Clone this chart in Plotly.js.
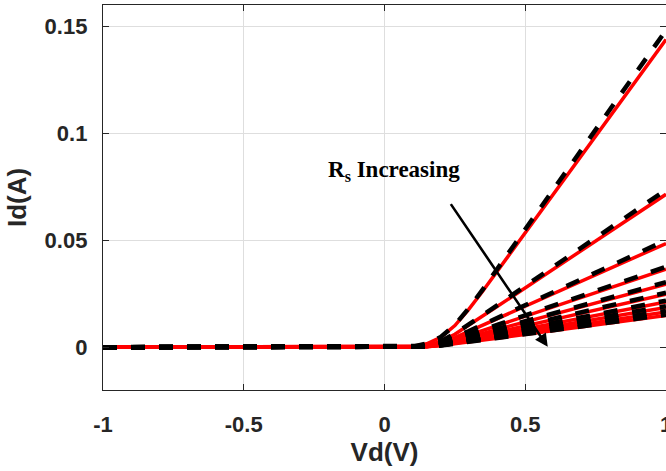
<!DOCTYPE html>
<html>
<head>
<meta charset="utf-8">
<script src="https://cdn.plot.ly/plotly-3.0.1.min.js"></script>
<style>
  html, body { margin: 0; padding: 0; background: #ffffff; }
  #plot { width: 666px; height: 471px; }
</style>
</head>
<body>
<div id="plot"></div>
<script>
// Diode forward voltage sweep (V)
const vd = [-1, 0.1, 0.15, 0.2, 0.25, 0.3, 0.35, 0.4, 1.0];

// Diode current (A), solid red: one series per series resistance Rs (smallest Rs first)
const idSolid = [
  [0, 0.0003, 0.0016, 0.0046, 0.0101, 0.0178, 0.0264, 0.0354, 0.1439],
  [0, 0.0002, 0.0008, 0.0027, 0.0061, 0.0103, 0.0146, 0.0190, 0.0715],
  [0, 0.0001, 0.0006, 0.0020, 0.0045, 0.0074, 0.0103, 0.0132, 0.0485],
  [0, 0.0001, 0.0005, 0.0017, 0.0036, 0.0057, 0.0079, 0.0101, 0.0365],
  [0, 0.0001, 0.0004, 0.0014, 0.0030, 0.0047, 0.0065, 0.0083, 0.0295],
  [0, 0.0001, 0.0003, 0.0012, 0.0026, 0.0040, 0.0055, 0.0070, 0.0248],
  [0, 0.0001, 0.0003, 0.0011, 0.0022, 0.0035, 0.0047, 0.0060, 0.0212],
  [0, 0.0000, 0.0003, 0.0009, 0.0020, 0.0031, 0.0042, 0.0053, 0.0186],
  [0, 0.0000, 0.0002, 0.0009, 0.0018, 0.0027, 0.0037, 0.0047, 0.0165],
  [0, 0.0000, 0.0002, 0.0008, 0.0016, 0.0025, 0.0034, 0.0042, 0.0148]
];

// Diode current (A), dashed black: same Rs values
const idDashed = [
  [0, 0.0003, 0.0017, 0.0048, 0.0104, 0.0183, 0.0272, 0.0365, 0.1482],
  [0, 0.0002, 0.0008, 0.0028, 0.0063, 0.0106, 0.0150, 0.0196, 0.0736],
  [0, 0.0001, 0.0006, 0.0021, 0.0046, 0.0076, 0.0106, 0.0136, 0.0500],
  [0, 0.0001, 0.0005, 0.0017, 0.0037, 0.0059, 0.0081, 0.0104, 0.0376],
  [0, 0.0001, 0.0004, 0.0014, 0.0031, 0.0048, 0.0067, 0.0085, 0.0304],
  [0, 0.0001, 0.0003, 0.0012, 0.0027, 0.0041, 0.0057, 0.0072, 0.0255],
  [0, 0.0001, 0.0003, 0.0011, 0.0023, 0.0036, 0.0048, 0.0062, 0.0218],
  [0, 0.0000, 0.0003, 0.0009, 0.0021, 0.0032, 0.0043, 0.0055, 0.0192],
  [0, 0.0000, 0.0002, 0.0009, 0.0019, 0.0028, 0.0038, 0.0048, 0.0170],
  [0, 0.0000, 0.0002, 0.0008, 0.0016, 0.0026, 0.0035, 0.0043, 0.0152]
];

// Axis ticks
const xTicks = [-1, -0.5, 0, 0.5, 1];
const xTickText = ['-1', '-0.5', '0', '0.5', '1'];
const yTicks = [0, 0.05, 0.1, 0.15];
const yTickText = ['0', '0.05', '0.1', '0.15'];

// Arrow: tail and head in data units
const arrowTail = [0.232, 0.0676];
const arrowHead = [0.58, 0.0002];
const arrowLabel = 'R<sub>s</sub> Increasing';
const arrowLabelPos = [0.035, 0.0825];

const traces = [];
idSolid.forEach(function (ys) {
  traces.push({
    x: vd, y: ys, type: 'scatter', mode: 'lines',
    line: { color: '#ff0000', width: 3.5 },
    hoverinfo: 'skip', showlegend: false
  });
});
idDashed.forEach(function (ys) {
  traces.push({
    x: vd, y: ys, type: 'scatter', mode: 'lines',
    line: { color: '#000000', width: 4.5, dash: '14px,14px' },
    hoverinfo: 'skip', showlegend: false
  });
});

const axisFont = { family: 'Liberation Sans, Arial, sans-serif', size: 22, color: '#262626', weight: 'bold' };
const titleFont = { family: 'Liberation Sans, Arial, sans-serif', size: 26, color: '#262626', weight: 'bold' };

const layout = {
  width: 666, height: 471,
  margin: { l: 103, r: 0, t: 5, b: 81, pad: 0 },
  paper_bgcolor: '#ffffff', plot_bgcolor: '#ffffff',
  showlegend: false,
  xaxis: {
    range: [-1, 1], tickvals: xTicks, ticktext: xTickText,
    showgrid: true, gridcolor: '#dedede', gridwidth: 1, zeroline: false,
    showline: true, linecolor: '#262626', linewidth: 1.2, mirror: 'ticks',
    ticks: 'inside', ticklen: 6, tickcolor: '#262626', tickwidth: 1,
    tickfont: axisFont, ticklabelstandoff: 14, ticklabeloverflow: 'allow',
    title: { text: 'Vd(V)', font: titleFont, standoff: 6 }
  },
  yaxis: {
    range: [-0.02, 0.16], tickvals: yTicks, ticktext: yTickText,
    showgrid: true, gridcolor: '#dedede', gridwidth: 1, zeroline: false,
    showline: true, linecolor: '#262626', linewidth: 1.2, mirror: 'ticks',
    ticks: 'inside', ticklen: 6, tickcolor: '#262626', tickwidth: 1,
    tickfont: axisFont, ticklabelstandoff: 10,
    title: { text: 'Id(A)', font: titleFont, standoff: 10 }
  },
  annotations: [
    {
      x: arrowHead[0], y: arrowHead[1], xref: 'x', yref: 'y',
      ax: arrowTail[0], ay: arrowTail[1], axref: 'x', ayref: 'y',
      text: '', showarrow: true, arrowhead: 2, arrowsize: 1,
      arrowwidth: 2.6, arrowcolor: '#000000', standoff: 0, startstandoff: 0
    },
    {
      x: arrowLabelPos[0], y: arrowLabelPos[1], xref: 'x', yref: 'y',
      text: arrowLabel, showarrow: false, xanchor: 'center', yanchor: 'middle',
      font: { family: 'Liberation Serif, Times New Roman, serif', size: 23, color: '#000000', weight: 'bold' }
    }
  ]
};

Plotly.newPlot('plot', traces, layout, { staticPlot: true, displayModeBar: false });
</script>
</body>
</html>
